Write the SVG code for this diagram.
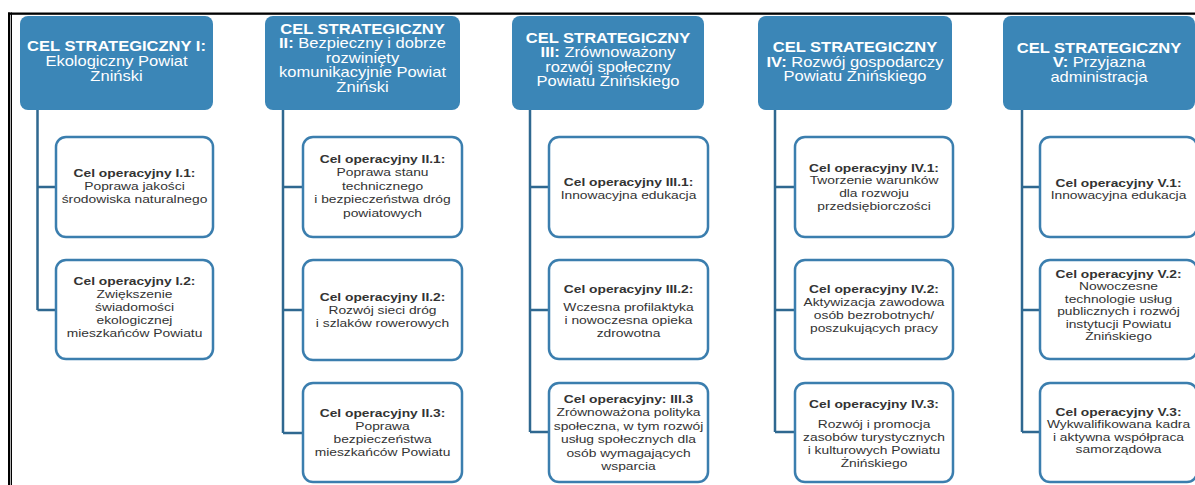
<svg xmlns="http://www.w3.org/2000/svg" width="1195" height="485" viewBox="0 0 1195 485">
<style>
.hdr{fill:#3B86B7}
.ht{font-family:"Liberation Sans",Arial,sans-serif;font-size:14px;fill:#ffffff;text-anchor:middle}
.b{font-weight:bold}
.op{fill:#ffffff;stroke:#3B7EAE;stroke-width:2.5}
.ot{font-family:"Liberation Sans",Arial,sans-serif;font-size:11.6px;fill:#333333;text-anchor:middle}
.conn{stroke:#2F6890;stroke-width:2.5;fill:none}
</style>
<rect x="0" y="0" width="1195" height="485" fill="#ffffff"/>
<g id="frame">
<rect x="8" y="12.5" width="1187" height="2.3" fill="#000"/>
<rect x="8" y="12.5" width="2.3" height="473" fill="#000"/>
<rect x="11" y="12.5" width="1" height="473" fill="#000"/>
</g>
<g id="connectors">
<path class="conn" d="M37.5 110 V310 M37.5 187 H56 M37.5 310 H56"/>
<path class="conn" d="M283 110 V433 M283 187 H303 M283 310 H303 M283 433 H303"/>
<path class="conn" d="M530 110 V432 M530 187 H549 M530 310 H549 M530 432 H549"/>
<path class="conn" d="M775 110 V432 M775 187 H795 M775 310 H795 M775 432 H795"/>
<path class="conn" d="M1022 110 V432 M1022 187 H1040 M1022 310 H1040 M1022 432 H1040"/>
</g>
<g id="h1"><rect class="hdr" x="20" y="16" width="193" height="94" rx="8"/>
<g transform="translate(116.5 0) scale(1.18 1)"><text class="ht"><tspan class="b" x="0" y="51">CEL STRATEGICZNY I:</tspan><tspan x="0" y="66">Ekologiczny Powiat</tspan><tspan x="0" y="81">Żniński</tspan></text></g></g>
<g id="h2"><rect class="hdr" x="265" y="16" width="195" height="94" rx="8"/>
<g transform="translate(362.5 0) scale(1.18 1)"><text class="ht"><tspan class="b" x="0" y="34">CEL STRATEGICZNY</tspan><tspan x="0" y="48.5"><tspan class="b">II:</tspan> Bezpieczny i dobrze</tspan><tspan x="0" y="63">rozwinięty</tspan><tspan x="0" y="77.5">komunikacyjnie Powiat</tspan><tspan x="0" y="92">Żniński</tspan></text></g></g>
<g id="h3"><rect class="hdr" x="512" y="16" width="192" height="94" rx="8"/>
<g transform="translate(608 0) scale(1.18 1)"><text class="ht"><tspan class="b" x="0" y="43">CEL STRATEGICZNY</tspan><tspan x="0" y="57.5"><tspan class="b">III:</tspan> Zrównoważony</tspan><tspan x="0" y="72">rozwój społeczny</tspan><tspan x="0" y="86.5">Powiatu Żnińskiego</tspan></text></g></g>
<g id="h4"><rect class="hdr" x="758" y="16" width="194" height="94" rx="8"/>
<g transform="translate(855 0) scale(1.18 1)"><text class="ht"><tspan class="b" x="0" y="52.5">CEL STRATEGICZNY</tspan><tspan x="0" y="67"><tspan class="b">IV:</tspan> Rozwój gospodarczy</tspan><tspan x="0" y="81.5">Powiatu Żnińskiego</tspan></text></g></g>
<g id="h5"><rect class="hdr" x="1003" y="16" width="192" height="94" rx="8"/>
<g transform="translate(1099 0) scale(1.18 1)"><text class="ht"><tspan class="b" x="0" y="53">CEL STRATEGICZNY</tspan><tspan x="0" y="67.5"><tspan class="b">V:</tspan> Przyjazna</tspan><tspan x="0" y="82">administracja</tspan></text></g></g>

<g id="op11"><rect class="op" x="56" y="137" width="157" height="100" rx="10"/>
<g transform="translate(134.5 0) scale(1.19 1)"><text class="ot"><tspan class="b" x="0" y="177.5">Cel operacyjny I.1:</tspan><tspan x="0" y="190.5">Poprawa jakości</tspan><tspan x="0" y="203.5">środowiska naturalnego</tspan></text></g></g>
<g id="op12"><rect class="op" x="56" y="260" width="157" height="99" rx="10"/>
<g transform="translate(134.5 0) scale(1.19 1)"><text class="ot"><tspan class="b" x="0" y="285">Cel operacyjny I.2:</tspan><tspan x="0" y="298">Zwiększenie</tspan><tspan x="0" y="311">świadomości</tspan><tspan x="0" y="324">ekologicznej</tspan><tspan x="0" y="337">mieszkańców Powiatu</tspan></text></g></g>

<g id="op21"><rect class="op" x="303" y="137" width="159" height="100" rx="10"/>
<g transform="translate(382.5 0) scale(1.19 1)"><text class="ot"><tspan class="b" x="0" y="163">Cel operacyjny II.1:</tspan><tspan x="0" y="176.5">Poprawa stanu</tspan><tspan x="0" y="190">technicznego</tspan><tspan x="0" y="203.5">i bezpieczeństwa dróg</tspan><tspan x="0" y="217">powiatowych</tspan></text></g></g>
<g id="op22"><rect class="op" x="303" y="260" width="159" height="100" rx="10"/>
<g transform="translate(382.5 0) scale(1.19 1)"><text class="ot"><tspan class="b" x="0" y="301">Cel operacyjny II.2:</tspan><tspan x="0" y="314">Rozwój sieci dróg</tspan><tspan x="0" y="327">i szlaków rowerowych</tspan></text></g></g>
<g id="op23"><rect class="op" x="303" y="383" width="159" height="99" rx="10"/>
<g transform="translate(382.5 0) scale(1.19 1)"><text class="ot"><tspan class="b" x="0" y="417">Cel operacyjny II.3:</tspan><tspan x="0" y="430">Poprawa</tspan><tspan x="0" y="443">bezpieczeństwa</tspan><tspan x="0" y="456">mieszkańców Powiatu</tspan></text></g></g>

<g id="op31"><rect class="op" x="549" y="137" width="159" height="100" rx="10"/>
<g transform="translate(628.5 0) scale(1.19 1)"><text class="ot"><tspan class="b" x="0" y="186">Cel operacyjny III.1:</tspan><tspan x="0" y="199">Innowacyjna edukacja</tspan></text></g></g>
<g id="op32"><rect class="op" x="549" y="260" width="159" height="99" rx="10"/>
<g transform="translate(628.5 0) scale(1.19 1)"><text class="ot"><tspan class="b" x="0" y="293">Cel operacyjny III.2:</tspan><tspan x="0" y="311">Wczesna profilaktyka</tspan><tspan x="0" y="324">i nowoczesna opieka</tspan><tspan x="0" y="337.5">zdrowotna</tspan></text></g></g>
<g id="op33"><rect class="op" x="549" y="383" width="159" height="99" rx="10"/>
<g transform="translate(628.5 0) scale(1.19 1)"><text class="ot"><tspan class="b" x="0" y="403">Cel operacyjny: III.3</tspan><tspan x="0" y="416.5">Zrównoważona polityka</tspan><tspan x="0" y="430">społeczna, w tym rozwój</tspan><tspan x="0" y="443.5">usług społecznych dla</tspan><tspan x="0" y="457">osób wymagających</tspan><tspan x="0" y="470">wsparcia</tspan></text></g></g>

<g id="op41"><rect class="op" x="795" y="137" width="158" height="100" rx="10"/>
<g transform="translate(874 0) scale(1.19 1)"><text class="ot"><tspan class="b" x="0" y="172">Cel operacyjny IV.1:</tspan><tspan x="0" y="184.5">Tworzenie warunków</tspan><tspan x="0" y="197">dla rozwoju</tspan><tspan x="0" y="210">przedsiębiorczości</tspan></text></g></g>
<g id="op42"><rect class="op" x="795" y="260" width="158" height="99" rx="10"/>
<g transform="translate(874 0) scale(1.19 1)"><text class="ot"><tspan class="b" x="0" y="293">Cel operacyjny IV.2:</tspan><tspan x="0" y="306">Aktywizacja zawodowa</tspan><tspan x="0" y="319">osób bezrobotnych/</tspan><tspan x="0" y="332">poszukujących pracy</tspan></text></g></g>
<g id="op43"><rect class="op" x="795" y="383" width="158" height="99" rx="10"/>
<g transform="translate(874 0) scale(1.19 1)"><text class="ot"><tspan class="b" x="0" y="408">Cel operacyjny IV.3:</tspan><tspan x="0" y="428">Rozwój i promocja</tspan><tspan x="0" y="441">zasobów turystycznych</tspan><tspan x="0" y="454">i kulturowych Powiatu</tspan><tspan x="0" y="467">Żnińskiego</tspan></text></g></g>

<g id="op51"><rect class="op" x="1040" y="137" width="157" height="100" rx="10"/>
<g transform="translate(1118.5 0) scale(1.19 1)"><text class="ot"><tspan class="b" x="0" y="187">Cel operacyjny V.1:</tspan><tspan x="0" y="199">Innowacyjna edukacja</tspan></text></g></g>
<g id="op52"><rect class="op" x="1040" y="260" width="157" height="99" rx="10"/>
<g transform="translate(1118.5 0) scale(1.19 1)"><text class="ot"><tspan class="b" x="0" y="278">Cel operacyjny V.2:</tspan><tspan x="0" y="290.5">Nowoczesne</tspan><tspan x="0" y="303">technologie usług</tspan><tspan x="0" y="315.5">publicznych i rozwój</tspan><tspan x="0" y="328">instytucji Powiatu</tspan><tspan x="0" y="340.5">Żnińskiego</tspan></text></g></g>
<g id="op53"><rect class="op" x="1040" y="383" width="157" height="99" rx="10"/>
<g transform="translate(1118.5 0) scale(1.19 1)"><text class="ot"><tspan class="b" x="0" y="416">Cel operacyjny V.3:</tspan><tspan x="0" y="428.5">Wykwalifikowana kadra</tspan><tspan x="0" y="441">i aktywna współpraca</tspan><tspan x="0" y="453.5">samorządowa</tspan></text></g></g>
</svg>
